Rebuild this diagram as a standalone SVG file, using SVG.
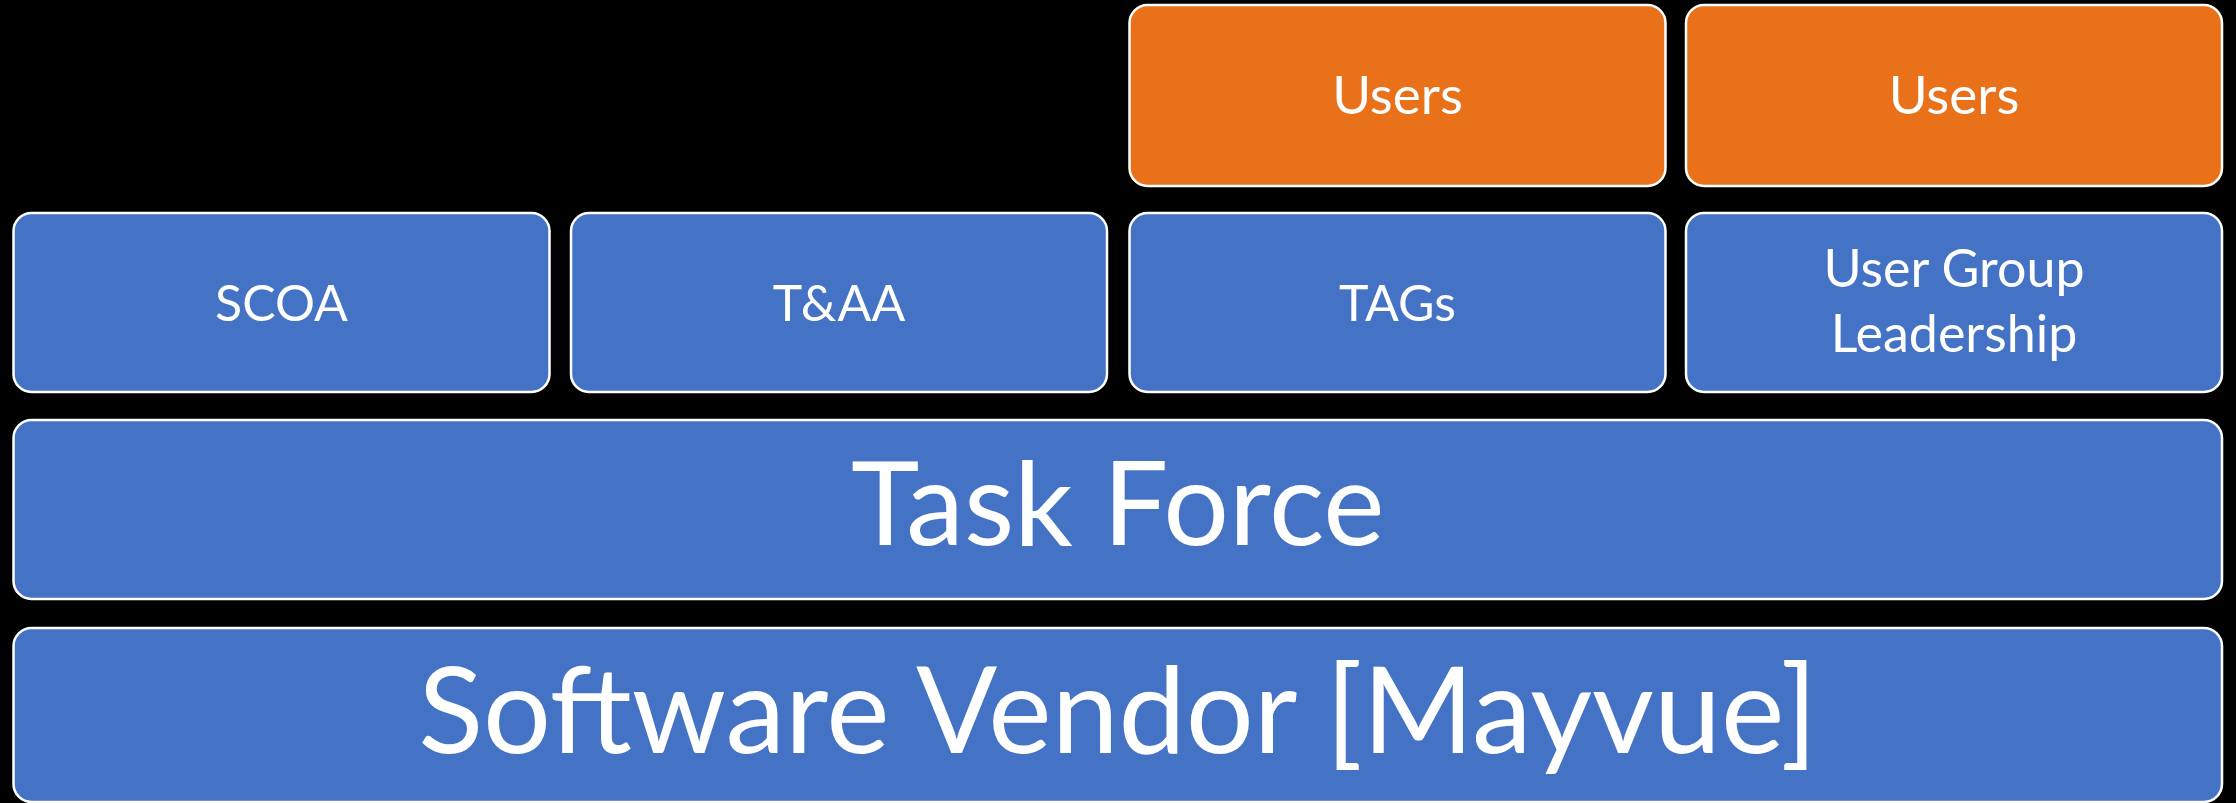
<svg xmlns="http://www.w3.org/2000/svg" width="2236" height="803" viewBox="0 0 2236 803">
<style>
.blue{fill:#4472C4;stroke:#FFFFFF;stroke-width:2.5}
.orange{fill:#E8711A;stroke:#FFFFFF;stroke-width:2.5}
.t{fill:#FFFFFF;font-family:Lato,"Open Sans","Liberation Sans",sans-serif;text-anchor:middle}
.s{font-size:50px}
.u{font-size:53px}
.g{font-size:52px}
</style>
<rect x="0" y="0" width="2236" height="803" fill="#000000"/>
<g id="users1"><rect class="orange" x="1129.5" y="5" width="536" height="181" rx="18"/><text class="t u" x="1397.5" y="114">Users</text></g>
<g id="users2"><rect class="orange" x="1686" y="5" width="536" height="181" rx="18"/><text class="t u" x="1954" y="114">Users</text></g>
<g id="scoa"><rect class="blue" x="13.5" y="213" width="536" height="179" rx="18"/><text class="t s" x="281.5" y="321">SCOA</text></g>
<g id="taa"><rect class="blue" x="571" y="213" width="536" height="179" rx="18"/><text class="t s" x="839" y="321">T&amp;AA</text></g>
<g id="tags"><rect class="blue" x="1129.5" y="213" width="536" height="179" rx="18"/><text class="t s" x="1397.5" y="321">TAGs</text></g>
<g id="ugl"><rect class="blue" x="1686" y="213" width="536" height="179" rx="18"/><text class="t g" x="1954" y="287">User Group</text><text class="t g" x="1954" y="352">Leadership</text></g>
<g id="taskforce"><rect class="blue" x="13.5" y="420" width="2208.5" height="179" rx="18"/><text class="t" font-size="116" x="1117.75" y="545">Task Force</text></g>
<g id="vendor"><rect class="blue" x="13.5" y="628" width="2208.5" height="174" rx="18"/><text class="t" font-size="120" x="1117.75" y="753">Software Vendor [Mayvue]</text></g>
<g id="connectors"/>
</svg>
